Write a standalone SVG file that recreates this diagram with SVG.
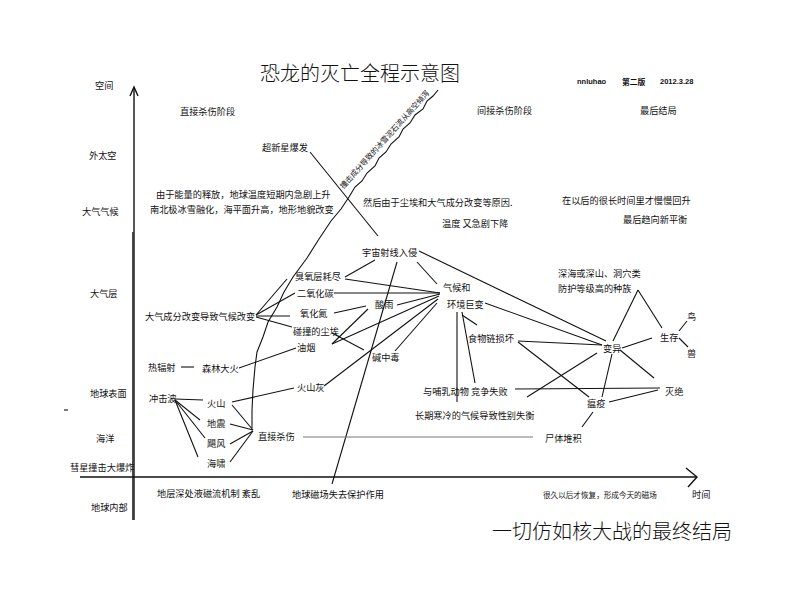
<svg xmlns="http://www.w3.org/2000/svg" width="800" height="600" viewBox="0 0 800 600">
<style>
text { font-family: "Noto Sans CJK SC", "Liberation Sans", sans-serif; font-size: 9.2px; fill: #111; dominant-baseline: central; }
.big { font-size: 20px; font-weight: 300; }
.sm { font-size: 7.6px; }
.lat { font-family: "Liberation Sans", "Noto Sans CJK SC", sans-serif; font-size: 7.5px; font-weight: bold; }
.hdr { font-size: 7.8px; font-weight: bold; }
line, path, polyline { stroke: #111; stroke-width: 1.1; fill: none; }
.axis { stroke-width: 1.4; }
.gray { stroke: #777; stroke-width: 1.2; }
</style>
<rect width="800" height="600" fill="#fff"/>

<g id="axes">
  <line class="axis" x1="134" y1="88" x2="134" y2="520"/>
  <line x1="132.8" y1="232" x2="132.8" y2="520"/>
  <polyline class="axis" points="130,96 134,87 138,96"/>
  <line class="axis" x1="80" y1="477" x2="696" y2="477"/>
  <polyline class="axis" points="686,468 697,477 688,487"/>
  <line x1="64" y1="410" x2="68" y2="410"/>
</g>

<g id="title"><text class="big" x="360" y="72" text-anchor="middle">恐龙的灭亡全程示意图</text></g>
<g id="header">
  <text class="lat" x="577" y="81">nnluhao</text>
  <text class="hdr" x="622" y="81">第二版</text>
  <text class="lat" x="660" y="81">2012.3.28</text>
</g>
<g id="footer"><text class="big" x="492" y="530">一切仿如核大战的最终结局</text></g>

<g id="axis-labels">
  <text x="95" y="85">空间</text>
  <text x="89" y="155">外太空</text>
  <text x="82" y="211">大气气候</text>
  <text x="90" y="293">大气层</text>
  <text x="90" y="393">地球表面</text>
  <text x="96" y="438">海洋</text>
  <text x="70" y="467">彗星撞击大爆炸</text>
  <text x="91" y="507">地球内部</text>
  <text x="692" y="494">时间</text>
</g>

<g id="stages">
  <text x="180" y="111">直接杀伤阶段</text>
  <text x="477" y="110">间接杀伤阶段</text>
  <text x="640" y="110">最后结局</text>
</g>

<g id="notes">
  <text x="156" y="194">由于能量的释放，地球温度短期内急剧上升</text>
  <text x="150" y="209">南北极冰雪融化，海平面升高，地形地貌改变</text>
  <text x="363" y="202">然后由于尘埃和大气成分改变等原因.</text>
  <text x="442" y="223">温度 又急剧下降</text>
  <text x="562" y="200">在以后的很长时间里才慢慢回升</text>
  <text x="623" y="219">最后趋向新平衡</text>
  <text class="sm" x="384" y="139" text-anchor="middle" transform="rotate(-48 384 139)">撞击成分导致的冰雪泥石流从高空倾泻</text>
</g>

<g id="connectors">
  <line x1="310" y1="152" x2="378" y2="236"/>
  <path d="M438,90 L433,96 L427,101 L423,109 L415,115 L410,123 L403,129 L399,137 L391,144 L386,152 L379,158 L375,166 L367,173 L362,181 L355,187 L349,197 L341,209 L331,221 L319,239 L307,258 L293,277 L284,292 L277,307 L268,322 L263,337 L257,352 L255,367 L253,390 L252,410 L252,428"/>
  <line x1="375" y1="260" x2="345" y2="277"/>
  <line x1="397" y1="262" x2="332" y2="484"/>
  <line x1="417" y1="262" x2="437" y2="284"/>
  <line x1="419" y1="251" x2="606" y2="341"/>
  <line x1="345" y1="279" x2="440" y2="293"/>
  <line x1="334" y1="293" x2="440" y2="293"/>
  <line x1="334" y1="313" x2="366" y2="306"/>
  <line x1="397" y1="305" x2="440" y2="294"/>
  <line x1="332" y1="344" x2="368" y2="309"/>
  <line x1="332" y1="344" x2="439" y2="296"/>
  <line x1="332" y1="333" x2="364" y2="350"/>
  <line x1="395" y1="351" x2="437" y2="303"/>
  <line x1="324" y1="386" x2="438" y2="299"/>
  <line x1="256" y1="315" x2="287" y2="279"/>
  <line x1="256" y1="315" x2="295" y2="293"/>
  <line x1="256" y1="316" x2="290" y2="316"/>
  <line x1="256" y1="317" x2="292" y2="327"/>
  <line x1="296" y1="348" x2="239" y2="368"/>
  <line x1="181" y1="367" x2="194" y2="367"/>
  <line x1="232" y1="402" x2="294" y2="388"/>
  <line x1="175" y1="399" x2="203" y2="400"/>
  <line x1="175" y1="400" x2="200" y2="420"/>
  <line x1="175" y1="400" x2="205" y2="438"/>
  <line x1="175" y1="400" x2="198" y2="457"/>
  <line x1="232" y1="405" x2="253" y2="430"/>
  <line x1="230" y1="424" x2="253" y2="430"/>
  <line x1="230" y1="444" x2="253" y2="431"/>
  <line x1="230" y1="462" x2="253" y2="431"/>
  <line class="gray" x1="303" y1="437" x2="533" y2="437"/>
  <line x1="582" y1="427" x2="593" y2="412"/>
  <line x1="457" y1="312" x2="457" y2="402"/>
  <line x1="462" y1="312" x2="475" y2="383"/>
  <line x1="462" y1="315" x2="477" y2="325"/>
  <line x1="485" y1="303" x2="602" y2="345"/>
  <line x1="518" y1="341" x2="602" y2="345"/>
  <line x1="518" y1="342" x2="589" y2="397"/>
  <line x1="515" y1="389" x2="660" y2="388"/>
  <line x1="527" y1="397" x2="597" y2="353"/>
  <line x1="612" y1="354" x2="602" y2="397"/>
  <line x1="609" y1="402" x2="658" y2="390"/>
  <line x1="622" y1="348" x2="652" y2="338"/>
  <line x1="620" y1="350" x2="654" y2="378"/>
  <line x1="613" y1="341" x2="638" y2="290"/>
  <line x1="638" y1="290" x2="662" y2="328"/>
  <line x1="679" y1="331" x2="687" y2="321"/>
  <line x1="679" y1="338" x2="688" y2="347"/>
</g>

<g id="n-supernova"><text x="262" y="147">超新星爆发</text></g>
<g id="n-cosmic"><text x="362" y="252">宇宙射线入侵</text></g>
<g id="n-ozone"><text x="295" y="276">臭氧层耗尽</text></g>
<g id="n-co2"><text x="297" y="293">二氧化碳</text></g>
<g id="n-nox"><text x="300" y="313">氧化氮</text></g>
<g id="n-dust"><text x="293" y="331">碰撞的尘埃</text></g>
<g id="n-smoke"><text x="297" y="347">油烟</text></g>
<g id="n-atmos"><text x="145" y="316">大气成分改变导致气候改变</text></g>
<g id="n-heat"><text x="148" y="367">热辐射</text></g>
<g id="n-fire"><text x="202" y="368">森林大火</text></g>
<g id="n-ash"><text x="297" y="387">火山灰</text></g>
<g id="n-acid"><text x="375" y="304">酸雨</text></g>
<g id="n-alkali"><text x="372" y="357">碱中毒</text></g>
<g id="n-climate"><text x="443" y="287">气候和</text><text x="447" y="304">环境巨变</text></g>
<g id="n-food"><text x="468" y="338">食物链损坏</text></g>
<g id="n-mammal"><text x="423" y="391">与哺乳动物 竞争失败</text></g>
<g id="n-cold"><text x="415" y="415">长期寒冷的气候导致性别失衡</text></g>
<g id="n-mutate"><text x="603" y="348">变异</text></g>
<g id="n-survive"><text x="660" y="337">生存</text></g>
<g id="n-bird"><text x="687" y="316">鸟</text></g>
<g id="n-beast"><text x="687" y="353">兽</text></g>
<g id="n-species"><text x="558" y="273">深海或深山、洞穴类</text><text x="558" y="288">防护等级高的种族</text></g>
<g id="n-extinct"><text x="665" y="391">灭绝</text></g>
<g id="n-plague"><text x="587" y="403">瘟疫</text></g>
<g id="n-corpse"><text x="545" y="438">尸体堆积</text></g>
<g id="n-direct"><text x="258" y="436">直接杀伤</text></g>
<g id="n-shock"><text x="149" y="398">冲击波</text></g>
<g id="n-volcano"><text x="207" y="403">火山</text></g>
<g id="n-quake"><text x="207" y="423">地震</text></g>
<g id="n-hurricane"><text x="207" y="443">飓风</text></g>
<g id="n-tsunami"><text x="207" y="463">海啸</text></g>
<g id="n-core"><text x="157" y="493">地层深处液磁流机制 紊乱</text></g>
<g id="n-magnet"><text x="292" y="494">地球磁场失去保护作用</text></g>
<g id="n-recover"><text class="sm" x="543" y="494">很久以后才恢复，形成今天的磁场</text></g>
</svg>
